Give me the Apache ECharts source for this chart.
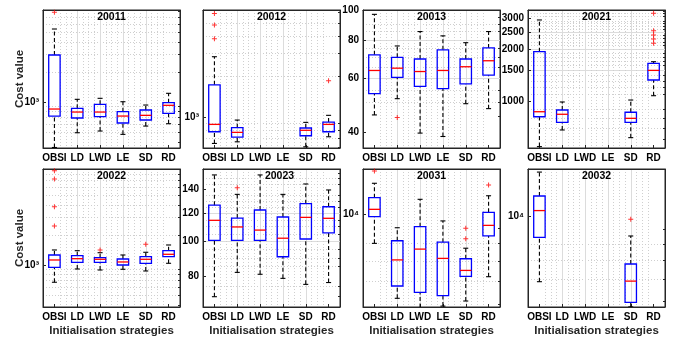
<!DOCTYPE html>
<html><head><meta charset="utf-8">
<script src="https://cdn.jsdelivr.net/npm/echarts@6/dist/echarts.min.js"></script>
<style>html,body{margin:0;padding:0;background:#fff}#c{width:676px;height:341px}</style>
</head><body><div id="c"></div>
<script>
// ---------------- data ----------------
const categories = ['OBSI', 'LD', 'LWD', 'LE', 'SD', 'RD'];
const panelNames = ['20011', '20012', '20013', '20021', '20022', '20023', '20031', '20032'];
const xLabel = 'Initialisation strategies';
const yLabel = 'Cost value';

// box stats per category: [lower whisker, Q1, median, Q3, upper whisker]; null = no run
const box20011 = [[351, 724, 851, 2951, 5370], [493, 692, 794, 865, 1064], [513, 713, 794, 948, 1089], [475, 617, 724, 800, 1007], [575, 661, 736, 832, 933], [607, 771, 927, 984, 1222]];
const out20011 = [[7889], [], [], [], [], []];
const lim20011 = [347, 8318];
const ticks20011 = [1000];

const box20012 = [[641, 782, 887, 1742, 2812], [659, 714, 774, 838, 955], null, null, [605, 731, 802, 834, 918], [718, 782, 887, 923, 1035]];
const out20012 = [[3819, 4831, 5888], [], [], [], [], [1866]];
const lim20012 = [593, 6237];
const ticks20012 = [1000];

const box20013 = [[45.6, 53.5, 63.6, 71.5, 96.8], [51.5, 60.4, 64.7, 70.2, 76.4], [39.8, 56.5, 63.1, 69.3, 85.1], [38.8, 55.5, 63.6, 74.2, 82.4], [49.6, 57.5, 65.4, 69.3, 78.3], [47.8, 61.4, 68.4, 75.3, 85.1]];
const out20013 = [[], [44.7], [], [], [], []];
const lim20013 = [35.6, 100];
const ticks20013 = [40, 60, 80, 100];

const box20021 = [[545, 811, 867, 1928, 2940], [680, 753, 838, 887, 987], null, null, [614, 753, 794, 861, 1013], [1073, 1322, 1503, 1652, 1687]];
const out20021 = [[], [], [], [], [], [2158, 2281, 2410, 2547, 3214]];
const lim20021 = [535, 3357];
const ticks20021 = [1000, 1500, 2000, 2500, 3000];

const box20022 = [[672, 948, 1122, 1259, 1413], [912, 1064, 1156, 1239, 1390], [891, 1064, 1140, 1183, 1327], [906, 1000, 1072, 1148, 1259], [871, 1040, 1140, 1211, 1340], [1040, 1211, 1279, 1390, 1585]];
const out20022 = [[2455, 3828, 7244, 8770], [], [1413], [], [1611], []];
const lim20022 = [380, 9120];
const ticks20022 = [1000];

const box20023 = [[70.0, 100.7, 114.6, 126.4, 153.6], [81.9, 100.7, 109.8, 116.3, 135.5], [80.9, 100.7, 107.6, 122.5, 153.6], [78.8, 90.6, 102.1, 117.1, 135.5], [75.8, 101.6, 116.8, 127.6, 144.9], [76.7, 105.7, 116.1, 125.1, 139.4]];
const out20023 = [[], [141.3], [], [], [], []];
const lim20023 = [65.5, 159.6];
const ticks20023 = [80, 100, 120, 140];

const box20031 = [[8001, 9817, 10390, 11360, 12690], [5248, 5768, 7047, 8162, 9021], [4887, 5495, 7656, 9098, 11220], [4943, 5358, 7129, 8072, 9506], [5140, 6209, 6501, 7109, 7709], [6194, 8472, 9186, 10150, 11530]];
const out20031 = [[13940], [], [], [], [8283, 8981], [12520]];
const lim20031 = [4909, 14160];
const ticks20031 = [10000];

const box20032 = [[5860, 8440, 10510, 11850, 14420], null, null, null, [4764, 4942, 5888, 6776, 8531], null];
const out20032 = [[], [], [], [], [9790], []];
const lim20032 = [4760, 14790];
const ticks20032 = [10000];

// ---------------- build ----------------
const panels = [
  {box: box20011, out: out20011, lim: lim20011, ticks: ticks20011, pow: true, step: 0},
  {box: box20012, out: out20012, lim: lim20012, ticks: ticks20012, pow: true, step: 0},
  {box: box20013, out: out20013, lim: lim20013, ticks: ticks20013, pow: false, step: 5},
  {box: box20021, out: out20021, lim: lim20021, ticks: ticks20021, pow: false, step: 100},
  {box: box20022, out: out20022, lim: lim20022, ticks: ticks20022, pow: true, step: 0},
  {box: box20023, out: out20023, lim: lim20023, ticks: ticks20023, pow: false, step: 5},
  {box: box20031, out: out20031, lim: lim20031, ticks: ticks20031, pow: true, step: 0},
  {box: box20032, out: out20032, lim: lim20032, ticks: ticks20032, pow: true, step: 0}
];

const FONT = 'Liberation Sans';
const lefts = [43, 203, 363, 528];
const tops = [10, 169];
const GW = 137, GH = 138;
const SUP = {3: '\u00B3', 4: '\u2074'};
const catPos = categories.map((c, i) => i + 1);
const xMinor = [];
for (let k = 1; k < 24; k++) { const v = 0.5 + 0.25 * k; if (v % 1 !== 0) xMinor.push(v); }

function minorValues(lim, ticks, step) {
  const out = [];
  if (step) {
    for (let v = Math.ceil(lim[0] / step) * step; v < lim[1]; v += step) if (ticks.indexOf(v) < 0) out.push(v);
  } else {
    for (let e = Math.floor(Math.log10(lim[0])); e <= Math.ceil(Math.log10(lim[1])); e++)
      for (let m = 1; m <= 9; m++) {
        const v = m * Math.pow(10, e);
        if (v > lim[0] && v < lim[1] && ticks.indexOf(v) < 0) out.push(v);
      }
  }
  return out.map(Math.log10);
}

function renderBox(params, api) {
  const x = api.value(0);
  const lo = api.coord([x, api.value(1)]);
  const q1 = api.coord([x, api.value(2)]);
  const md = api.coord([x, api.value(3)]);
  const q3 = api.coord([x, api.value(4)]);
  const hi = api.coord([x, api.value(5)]);
  const w = api.size([1, 0])[0];
  const bw = w * 0.5, cw = w * 0.22, cx = lo[0];
  const dash = {stroke: '#000', lineWidth: 1.1, lineDash: [4, 2.5]};
  const solid = {stroke: '#000', lineWidth: 1.1};
  return {type: 'group', children: [
    {type: 'line', shape: {x1: cx, y1: q3[1], x2: cx, y2: hi[1]}, style: dash},
    {type: 'line', shape: {x1: cx, y1: lo[1], x2: cx, y2: q1[1]}, style: dash},
    {type: 'line', shape: {x1: cx - cw / 2, y1: hi[1], x2: cx + cw / 2, y2: hi[1]}, style: solid},
    {type: 'line', shape: {x1: cx - cw / 2, y1: lo[1], x2: cx + cw / 2, y2: lo[1]}, style: solid},
    {type: 'rect', shape: {x: cx - bw / 2, y: q3[1], width: bw, height: q1[1] - q3[1]}, style: {fill: 'none', stroke: '#0000ff', lineWidth: 1.3}},
    {type: 'line', shape: {x1: cx - bw / 2, y1: md[1], x2: cx + bw / 2, y2: md[1]}, style: {stroke: '#ff0000', lineWidth: 1.3}}
  ]};
}

const grids = [], xAxes = [], yAxes = [], series = [], titles = [];
const tickFont = {fontFamily: FONT, fontWeight: 'bold', fontSize: 10, color: '#000'};
const nameFont = {fontFamily: FONT, fontWeight: 'bold', fontSize: 11.5, color: '#262626'};

panels.forEach((p, i) => {
  const row = Math.floor(i / 4), col = i % 4;
  const L = lefts[col], T = tops[row];
  grids.push({left: L, top: T, width: GW, height: GH, show: true, backgroundColor: 'transparent',
    borderColor: '#262626', borderWidth: 1, containLabel: false, outerBoundsMode: 'none'});
  titles.push({text: panelNames[i], left: L + GW / 2 + (i === 5 ? 8 : 0), top: T + 2, textAlign: 'center', padding: 0,
    textStyle: {fontFamily: FONT, fontWeight: 'bold', fontSize: 10.5, color: '#000'}});

  // x axes (main + minor grid)
  xAxes.push({type: 'value', gridIndex: i, min: 0.5, max: 6.5, position: 'bottom',
    axisLine: {show: true, onZero: false, lineStyle: {color: '#262626', width: 1}},
    axisTick: {show: true, inside: true, length: 3, customValues: catPos, lineStyle: {color: '#262626'}},
    axisLabel: Object.assign({customValues: catPos, margin: 5, formatter: v => categories[Math.round(v) - 1]}, tickFont),
    splitLine: {show: true, showMinLine: false, showMaxLine: false, lineStyle: {color: '#dcdcdc', width: 1}},
    name: row === 1 ? xLabel : '', nameLocation: 'middle', nameGap: 18, nameTextStyle: nameFont, nameMoveOverlap: false});
  xAxes.push({type: 'value', gridIndex: i, min: 0.5, max: 6.5, position: 'top',
    axisLine: {show: true, onZero: false, lineStyle: {color: '#262626', width: 1}},
    axisTick: {show: false, customValues: xMinor},
    axisLabel: {show: false},
    splitLine: {show: true, showMinLine: false, showMaxLine: false, lineStyle: {color: '#cfcfcf', width: 1, type: [1, 2]}}});

  // y axes (main + minor grid), data in log10 space
  const ymin = Math.log10(p.lim[0]), ymax = Math.log10(p.lim[1]);
  const majorLog = p.ticks.map(Math.log10);
  const fmt = p.pow ? (v => '10' + SUP[Math.round(v)]) : (v => String(Math.round(Math.pow(10, v))));
  yAxes.push({type: 'value', gridIndex: i, min: ymin, max: ymax, position: 'left',
    axisLine: {show: true, onZero: false, lineStyle: {color: '#262626', width: 1}},
    axisTick: {show: true, inside: true, length: 3, customValues: majorLog, lineStyle: {color: '#262626'}},
    axisLabel: Object.assign({customValues: majorLog, margin: 4, formatter: fmt}, tickFont),
    splitLine: {show: true, showMinLine: false, showMaxLine: false, lineStyle: {color: '#dcdcdc', width: 1}},
    name: col === 0 ? yLabel : '', nameLocation: 'middle', nameGap: 17, nameRotate: 90, nameTextStyle: nameFont, nameMoveOverlap: false});
  yAxes.push({type: 'value', gridIndex: i, min: ymin, max: ymax, position: 'right',
    axisLine: {show: true, onZero: false, lineStyle: {color: '#262626', width: 1}},
    axisTick: {show: true, inside: true, length: 2, customValues: minorValues(p.lim, p.ticks, p.step), lineStyle: {color: '#262626'}},
    axisLabel: {show: false},
    splitLine: {show: true, showMinLine: false, showMaxLine: false, lineStyle: {color: '#cfcfcf', width: 1, type: [1, 2]}}});

  const boxData = [], outData = [];
  p.box.forEach((b, k) => { if (b) boxData.push([k + 1].concat(b.map(Math.log10))); });
  p.out.forEach((arr, k) => arr.forEach(v => outData.push([k + 1, Math.log10(v)])));
  series.push({type: 'custom', xAxisIndex: 2 * i, yAxisIndex: 2 * i, renderItem: renderBox,
    encode: {x: 0, y: [1, 2, 3, 4, 5]}, data: boxData, clip: true, silent: true, z: 3});
  series.push({type: 'scatter', xAxisIndex: 2 * i, yAxisIndex: 2 * i, data: outData,
    symbol: 'path://M2,0H3V2H5V3H3V5H2V3H0V2H2Z', symbolSize: 5, itemStyle: {color: '#ff0000'}, silent: true, z: 4});
});

const chart = echarts.init(document.getElementById('c'), null, {renderer: 'canvas'});
chart.setOption({animation: false, backgroundColor: '#fff', title: titles, grid: grids, xAxis: xAxes, yAxis: yAxes, series: series});
</script></body></html>
